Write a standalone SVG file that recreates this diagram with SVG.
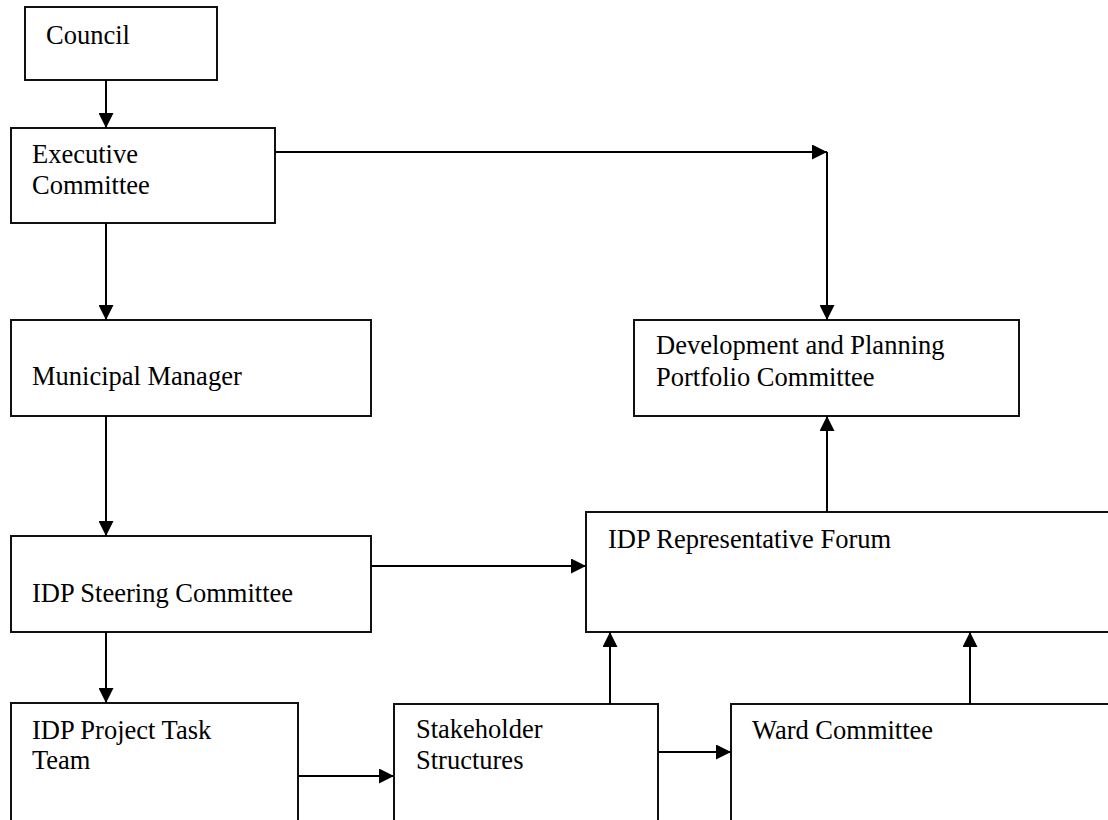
<svg xmlns="http://www.w3.org/2000/svg" width="1108" height="820" viewBox="0 0 1108 820">
<style>
.box{fill:#fff;stroke:#111;stroke-width:2}
.lbl{font-family:"Liberation Serif","Times New Roman",serif;font-size:26.5px;fill:#000}
.con{fill:none;stroke:#000;stroke-width:2}
</style>
<defs>
<marker id="ah" markerUnits="userSpaceOnUse" markerWidth="15" markerHeight="15" refX="15" refY="7.5" orient="auto">
<path d="M0,0 L15,7.5 L0,15 z" fill="#000"/>
</marker>
</defs>
<rect width="1108" height="820" fill="#fff"/>
<g id="council"><rect class="box" x="25" y="7" width="192" height="73"/><text class="lbl" x="46" y="44">Council</text></g>
<g id="executive"><rect class="box" x="11" y="128" width="264" height="95"/><text class="lbl" x="32" y="163">Executive</text><text class="lbl" x="32" y="194">Committee</text></g>
<g id="manager"><rect class="box" x="11" y="320" width="360" height="96"/><text class="lbl" x="32" y="385">Municipal Manager</text></g>
<g id="devplan"><rect class="box" x="634" y="320" width="385" height="96"/><text class="lbl" x="656" y="354">Development and Planning</text><text class="lbl" x="656" y="386">Portfolio Committee</text></g>
<g id="steering"><rect class="box" x="11" y="536" width="360" height="96"/><text class="lbl" x="32" y="602">IDP Steering Committee</text></g>
<g id="forum"><rect class="box" x="586" y="512" width="540" height="120"/><text class="lbl" x="608" y="548">IDP Representative Forum</text></g>
<g id="taskteam"><rect class="box" x="11" y="703" width="287" height="140"/><text class="lbl" x="32" y="739">IDP Project Task</text><text class="lbl" x="32" y="769">Team</text></g>
<g id="stakeholder"><rect class="box" x="394" y="704" width="264" height="140"/><text class="lbl" x="416" y="738">Stakeholder</text><text class="lbl" x="416" y="769">Structures</text></g>
<g id="ward"><rect class="box" x="731" y="704" width="400" height="140"/><text class="lbl" x="752" y="739">Ward Committee</text></g>
<g id="connectors">
<path class="con" d="M106,80 V128" marker-end="url(#ah)"/>
<path class="con" d="M106,223 V320" marker-end="url(#ah)"/>
<path class="con" d="M106,416 V536" marker-end="url(#ah)"/>
<path class="con" d="M106,632 V703" marker-end="url(#ah)"/>
<path class="con" d="M275,152 H827" marker-end="url(#ah)"/>
<path class="con" d="M827,152 V320" marker-end="url(#ah)"/>
<path class="con" d="M827,512 V416" marker-end="url(#ah)"/>
<path class="con" d="M371,566 H586" marker-end="url(#ah)"/>
<path class="con" d="M298,776 H394" marker-end="url(#ah)"/>
<path class="con" d="M658,752 H731" marker-end="url(#ah)"/>
<path class="con" d="M610,704 V632" marker-end="url(#ah)"/>
<path class="con" d="M970,704 V632" marker-end="url(#ah)"/>
</g>
</svg>
